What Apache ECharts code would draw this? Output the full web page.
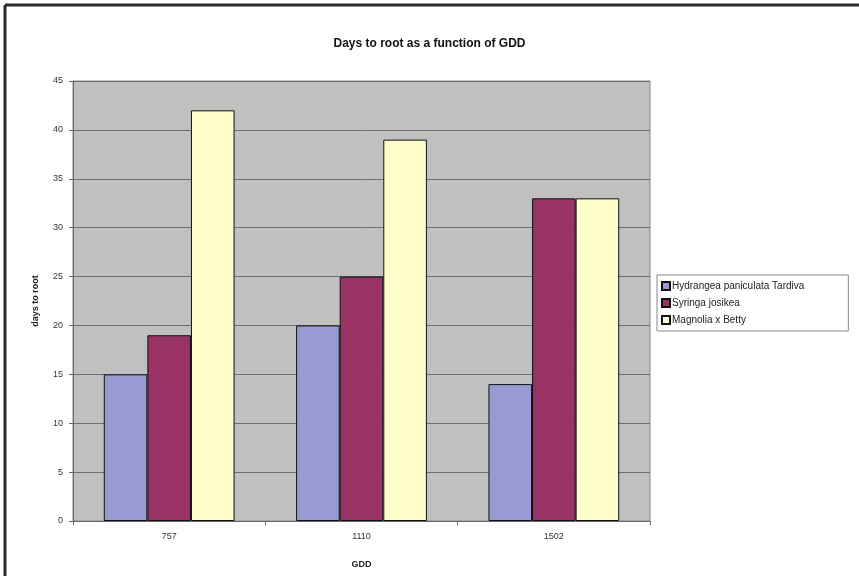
<!DOCTYPE html>
<html>
<head>
<meta charset="utf-8">
<script src="https://cdn.jsdelivr.net/npm/echarts@6/dist/echarts.min.js"></script>
<style>
  html, body { margin: 0; padding: 0; background: #fff; }
  #chart { width: 859px; height: 576px; }
</style>
</head>
<body>
<div id="chart"></div>
<script>
// GDD categories and days-to-root per species
const categories = ['757', '1110', '1502'];
const hydrangea = [15, 20, 14];
const syringa = [19, 25, 33];
const magnolia = [42, 39, 33];
const seriesNames = ['Hydrangea paniculata Tardiva', 'Syringa josikea', 'Magnolia x Betty'];
const seriesColors = ['#9999d4', '#993366', '#ffffcc'];

const chart = echarts.init(document.getElementById('chart'));
const labelFont = { fontFamily: 'Liberation Sans, Arial, sans-serif', fontSize: 9, color: '#333' };

function bar(name, data, color) {
  return {
    name: name,
    type: 'bar',
    data: data,
    barGap: '0%',
    barCategoryGap: '32%',
    itemStyle: { color: color, borderColor: '#111', borderWidth: 1 }
  };
}

chart.setOption({
  animation: false,
  backgroundColor: '#fff',
  title: {
    text: 'Days to root as a function of GDD',
    left: 'center',
    top: 33,
    textStyle: { fontFamily: 'Liberation Sans, Arial, sans-serif', fontSize: 12, fontWeight: 'bold', color: '#111' }
  },
  graphic: [
    { type: 'line', shape: { x1: 5, y1: 5, x2: 859, y2: 5 }, style: { stroke: '#2a2a2a', lineWidth: 3 } },
    { type: 'line', shape: { x1: 5, y1: 5, x2: 5, y2: 576 }, style: { stroke: '#2a2a2a', lineWidth: 3 } }
  ],
  legend: {
    orient: 'vertical',
    left: 657,
    top: 275,
    itemWidth: 8,
    itemHeight: 8,
    itemGap: 7,
    padding: [6, 44, 6, 4],
    borderColor: '#888',
    borderWidth: 1,
    backgroundColor: '#fff',
    icon: 'rect',
    textStyle: { fontFamily: 'Liberation Sans, Arial, sans-serif', fontSize: 10, color: '#222', padding: [0, 0, 0, -3] },
    data: seriesNames
  },
  grid: { left: 73, right: 209, top: 81, bottom: 55, show: true, backgroundColor: '#c0c0c0', borderColor: '#888', borderWidth: 1 },
  xAxis: {
    type: 'category',
    data: categories,
    name: 'GDD',
    nameLocation: 'middle',
    nameGap: 39,
    nameTextStyle: { fontFamily: 'Liberation Sans, Arial, sans-serif', fontSize: 9, fontWeight: 'bold', color: '#222' },
    axisLine: { lineStyle: { color: '#666' } },
    axisTick: { show: true, length: 4, lineStyle: { color: '#666' } },
    axisLabel: Object.assign({ margin: 11 }, labelFont)
  },
  yAxis: {
    type: 'value',
    min: 0,
    max: 45,
    interval: 5,
    name: 'days to root',
    nameLocation: 'middle',
    nameGap: 33,
    nameTextStyle: { fontFamily: 'Liberation Sans, Arial, sans-serif', fontSize: 9, fontWeight: 'bold', color: '#222' },
    axisLine: { show: true, lineStyle: { color: '#666' } },
    axisTick: { show: true, length: 4, lineStyle: { color: '#666' } },
    axisLabel: Object.assign({ margin: 10 }, labelFont),
    splitLine: { lineStyle: { color: '#6e6e6e', width: 1 } }
  },
  series: [
    bar(seriesNames[0], hydrangea, seriesColors[0]),
    bar(seriesNames[1], syringa, seriesColors[1]),
    bar(seriesNames[2], magnolia, seriesColors[2])
  ]
});
</script>
</body>
</html>
